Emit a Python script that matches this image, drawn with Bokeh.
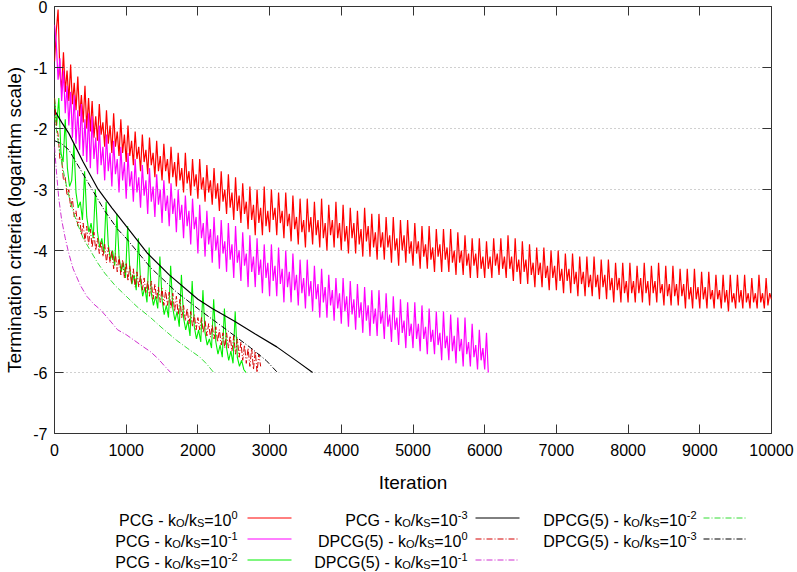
from bokeh.plotting import figure
from bokeh.models import Range1d, LinearAxis, FixedTicker, ColumnDataSource, CustomJSTickFormatter
from bokeh.layouts import column
from bokeh.core.properties import value
from bokeh.embed import file_html
from bokeh.resources import INLINE

FONT = "Liberation Sans"

# ---------------- data ----------------
x_ticks = [0, 1000, 2000, 3000, 4000, 5000, 6000, 7000, 8000, 9000, 10000]
x_tick_labels = ["0", "1000", "2000", "3000", "4000", "5000", "6000", "7000", "8000", "9000", "10000"]
y_ticks = [-7, -6, -5, -4, -3, -2, -1, 0]
y_tick_labels = ["-7", "-6", "-5", "-4", "-3", "-2", "-1", "0"]

# PCG - kO/kS=10^0 (log10 of criterion, sampled every 25 iterations)
pcg0_step = 25
pcg0 = [
    -0.90, -0.40, -0.05, -1.10, -1.35, -0.75, -1.40, -1.05, -1.55, -0.95, -1.60, -1.25, -1.70, -1.15, -1.80, -1.45, -1.90, -1.30, -2.00, -1.50,
    -2.05, -1.55, -2.15, -1.80, -2.20, -1.60, -2.10, -1.90, -2.30, -1.70, -2.25, -1.95, -2.40, -1.75, -2.30, -2.05, -2.45, -1.85, -2.40, -2.10,
    -2.55, -1.95, -2.45, -2.20, -2.60, -2.05, -2.50, -2.30, -2.70, -2.10, -2.55, -2.35, -2.75, -2.15, -2.60, -2.40, -2.80, -2.20, -2.70, -2.45,
    -2.85, -2.25, -2.70, -2.50, -2.90, -2.30, -2.80, -2.55, -2.95, -2.40, -2.85, -2.65, -3.05, -2.40, -2.90, -2.70, -3.10, -2.50, -2.95, -2.75,
    -3.15, -2.50, -3.00, -2.80, -3.20, -2.60, -3.05, -2.85, -3.25, -2.65, -3.15, -2.90, -3.35, -2.70, -3.20, -3.00, -3.40, -2.75, -3.30, -3.05,
    -3.50, -2.80, -3.35, -3.10, -3.55, -2.90, -3.40, -3.20, -3.65, -2.95, -3.50, -3.25, -3.75, -3.00, -3.55, -3.30, -3.75, -2.95, -3.60, -3.35,
    -3.70, -3.00, -3.50, -3.30, -3.75, -3.05, -3.55, -3.35, -3.80, -3.05, -3.60, -3.40, -3.85, -3.10, -3.65, -3.45, -3.90, -3.15, -3.70, -3.50,
    -3.95, -3.15, -3.70, -3.45, -3.90, -3.20, -3.75, -3.50, -3.95, -3.15, -3.80, -3.55, -4.00, -3.25, -3.75, -3.50, -3.95, -3.20, -3.80, -3.55,
    -4.00, -3.25, -3.85, -3.60, -4.05, -3.30, -3.80, -3.55, -4.05, -3.35, -3.90, -3.65, -4.10, -3.30, -3.85, -3.60, -4.10, -3.40, -3.95, -3.70,
    -4.15, -3.40, -3.95, -3.70, -4.15, -3.45, -3.95, -3.75, -4.20, -3.45, -4.00, -3.80, -4.25, -3.50, -4.00, -3.75, -4.20, -3.50, -4.05, -3.85,
    -4.25, -3.55, -4.05, -3.85, -4.30, -3.60, -4.10, -3.90, -4.30, -3.60, -4.15, -3.95, -4.35, -3.65, -4.10, -3.90, -4.35, -3.65, -4.15, -3.95,
    -4.35, -3.65, -4.20, -4.00, -4.40, -3.70, -4.20, -4.00, -4.40, -3.75, -4.25, -4.05, -4.45, -3.80, -4.25, -4.05, -4.45, -3.80, -4.30, -4.10,
    -4.45, -3.85, -4.30, -4.10, -4.45, -3.80, -4.25, -4.05, -4.40, -3.80, -4.30, -4.10, -4.45, -3.75, -4.30, -4.10, -4.50, -3.80, -4.35, -4.15,
    -4.55, -3.85, -4.35, -4.15, -4.55, -3.90, -4.40, -4.20, -4.60, -3.95, -4.40, -4.20, -4.60, -3.95, -4.45, -4.25, -4.65, -4.00, -4.45, -4.25,
    -4.65, -4.00, -4.50, -4.30, -4.70, -4.05, -4.50, -4.30, -4.70, -4.05, -4.55, -4.35, -4.75, -4.10, -4.55, -4.35, -4.75, -4.10, -4.60, -4.40,
    -4.75, -4.10, -4.60, -4.40, -4.80, -4.15, -4.60, -4.40, -4.80, -4.15, -4.65, -4.45, -4.85, -4.20, -4.65, -4.45, -4.85, -4.20, -4.70, -4.50,
    -4.85, -4.20, -4.70, -4.50, -4.85, -4.25, -4.70, -4.45, -4.85, -4.20, -4.70, -4.50, -4.90, -4.25, -4.70, -4.50, -4.85, -4.20, -4.70, -4.55,
    -4.90, -4.25, -4.75, -4.55, -4.90, -4.25, -4.75, -4.55, -4.90, -4.30, -4.75, -4.55, -4.95, -4.30, -4.80, -4.60, -4.95, -4.30, -4.80, -4.60,
    -4.95, -4.35, -4.80, -4.60, -4.95, -4.35, -4.80, -4.65, -4.95, -4.40, -4.80, -4.65, -4.95, -4.40, -4.85, -4.65, -5.00, -4.40, -4.85, -4.70,
    -4.95, -4.40, -4.85, -4.65, -4.95, -4.40, -4.85, -4.70, -4.95, -4.45, -4.85, -4.70, -4.95, -4.40, -4.85, -4.70, -4.95, -4.45, -4.90, -4.70,
    -4.80,
]

# PCG - kO/kS=10^-1 (every 25 iterations)
pcg1_step = 25
pcg1 = [
    -0.30, -0.60, -1.20, -0.85, -1.55, -1.05, -1.75, -1.30, -1.95, -1.40, -2.15, -1.45, -2.25, -1.70, -2.35, -1.60, -2.45, -1.85, -2.55, -1.75,
    -2.65, -1.80, -2.50, -2.15, -2.75, -1.95, -2.60, -2.30, -2.85, -2.10, -2.70, -2.40, -2.95, -2.20, -2.75, -2.50, -3.05, -2.30, -2.85, -2.55,
    -3.15, -2.40, -2.95, -2.70, -3.20, -2.50, -3.05, -2.80, -3.30, -2.60, -3.10, -2.85, -3.40, -2.65, -3.20, -2.95, -3.45, -2.75, -3.25, -3.00,
    -3.55, -2.85, -3.35, -3.10, -3.60, -2.90, -3.40, -3.15, -3.70, -3.00, -3.50, -3.25, -3.80, -3.10, -3.60, -3.35, -3.90, -3.15, -3.65, -3.45,
    -4.05, -3.25, -3.80, -3.55, -4.10, -3.35, -3.90, -3.65, -4.20, -3.45, -4.00, -3.75, -4.30, -3.50, -4.05, -3.85, -4.35, -3.55, -4.15, -3.90,
    -4.45, -3.60, -4.20, -4.00, -4.50, -3.70, -4.25, -4.05, -4.60, -3.75, -4.35, -4.10, -4.60, -3.80, -4.40, -4.15, -4.70, -3.90, -4.45, -4.20,
    -4.75, -3.90, -4.50, -4.25, -4.75, -3.95, -4.55, -4.30, -4.85, -4.00, -4.60, -4.35, -4.85, -4.05, -4.65, -4.40, -4.90, -4.15, -4.70, -4.45,
    -4.95, -4.15, -4.75, -4.50, -5.00, -4.25, -4.80, -4.55, -5.10, -4.30, -4.85, -4.60, -5.10, -4.40, -4.90, -4.65, -5.15, -4.45, -4.95, -4.70,
    -5.20, -4.45, -5.00, -4.75, -5.25, -4.50, -5.05, -4.80, -5.30, -4.55, -5.10, -4.85, -5.35, -4.60, -5.15, -4.90, -5.40, -4.65, -5.20, -4.95,
    -5.40, -4.65, -5.20, -5.00, -5.45, -4.70, -5.25, -5.05, -5.50, -4.75, -5.30, -5.10, -5.55, -4.80, -5.35, -5.15, -5.60, -4.85, -5.40, -5.20,
    -5.60, -4.85, -5.45, -5.20, -5.65, -4.90, -5.45, -5.25, -5.70, -4.95, -5.50, -5.30, -5.70, -5.00, -5.55, -5.35, -5.80, -5.00, -5.60, -5.40,
    -5.80, -5.05, -5.65, -5.40, -5.85, -5.10, -5.65, -5.45, -5.90, -5.10, -5.70, -5.50, -5.90, -5.20, -5.75, -5.55, -5.95, -5.30, -5.80, -5.60,
    -5.95, -5.35, -6.00,
]

# PCG - kO/kS=10^-2 (every 30 iterations)
pcg2_step = 30
pcg2 = [
    -1.50, -1.95, -1.50, -2.40, -2.55,
    -1.85, -2.65, -2.95, -2.85, -2.25,
    -3.05, -3.30, -3.20, -3.50, -2.70,
    -3.45, -3.70, -3.55, -3.80, -3.00,
    -3.70, -3.95, -3.80, -4.05, -3.20,
    -3.90, -4.15, -4.00, -4.25, -3.40,
    -4.10, -4.35, -4.20, -4.45, -3.60,
    -4.30, -4.55, -4.40, -4.65, -3.80,
    -4.50, -4.75, -4.60, -4.85, -3.95,
    -4.70, -4.90, -4.75, -4.95, -4.10,
    -4.80, -5.05, -4.90, -5.10, -4.25,
    -4.95, -5.15, -5.00, -5.25, -4.40,
    -5.10, -5.30, -5.15, -5.40, -4.50,
    -5.25, -5.45, -5.30, -5.50, -4.65,
    -5.35, -5.55, -5.45, -5.60, -4.80,
    -5.50, -5.70, -5.55, -5.75, -4.95,
    -5.60, -5.80, -5.65, -5.85, -5.00,
    -5.75, -5.90, -5.80, -5.95, -6.00,
]

# PCG - kO/kS=10^-3
pcg3_iter = [0, 100, 200, 400, 600, 800, 1000, 1300, 1600, 2000, 2200, 2500, 2800, 3100, 3400, 3600]
pcg3 = [-1.70, -1.90, -2.08, -2.55, -2.98, -3.30, -3.60, -4.05, -4.40, -4.80, -4.95, -5.15, -5.37, -5.58, -5.83, -6.00]

# DPCG(5) - kO/kS=10^0 (every 25 iterations)
dpcg0_step = 25
dpcg0 = [
    -1.50, -1.95, -2.10, -2.50, -2.50, -2.85, -2.80, -3.10, -3.00, -3.30, -3.15, -3.45, -3.35, -3.60, -3.45, -3.75, -3.55, -3.85, -3.60, -3.90,
    -3.65, -3.95, -3.70, -4.00, -3.80, -4.05, -3.85, -4.10, -3.90, -4.20, -3.95, -4.20, -4.00, -4.30, -4.05, -4.35, -4.10, -4.40, -4.15, -4.45,
    -4.20, -4.50, -4.25, -4.55, -4.30, -4.60, -4.35, -4.60, -4.40, -4.65, -4.45, -4.70, -4.50, -4.75, -4.50, -4.80, -4.55, -4.80, -4.60, -4.85,
    -4.62, -4.90, -4.65, -4.90, -4.68, -4.95, -4.70, -5.00, -4.75, -5.05, -4.80, -5.10, -4.90, -5.15, -4.95, -5.20, -5.00, -5.25, -5.05, -5.30,
    -5.10, -5.30, -5.10, -5.35, -5.15, -5.40, -5.20, -5.42, -5.22, -5.45, -5.25, -5.50, -5.30, -5.55, -5.35, -5.60, -5.35, -5.60, -5.40, -5.65,
    -5.40, -5.70, -5.45, -5.75, -5.50, -5.80, -5.55, -5.85, -5.60, -5.90, -5.60, -5.95, -5.65, -6.00, -5.70, -5.90,
]

# DPCG(5) - kO/kS=10^-1
dpcg1_iter = [0, 30, 60, 100, 150, 200, 260, 360, 450, 550, 640, 760, 880, 1000, 1120, 1240, 1340, 1450, 1540, 1620]
dpcg1 = [-2.30, -2.75, -3.15, -3.50, -3.80, -4.05, -4.30, -4.57, -4.75, -4.88, -4.97, -5.13, -5.30, -5.38, -5.48, -5.58, -5.66, -5.78, -5.90, -6.00]

# DPCG(5) - kO/kS=10^-2
dpcg2_iter = [0, 50, 100, 150, 220, 300, 400, 500, 600, 700, 850, 1000, 1150, 1340, 1500, 1700, 1850, 2030, 2130, 2220]
dpcg2 = [-1.80, -2.20, -2.55, -2.85, -3.20, -3.50, -3.80, -4.00, -4.20, -4.37, -4.58, -4.75, -4.92, -5.10, -5.27, -5.47, -5.60, -5.75, -5.87, -6.00]

# DPCG(5) - kO/kS=10^-3
dpcg3_iter = [0, 100, 200, 300, 500, 700, 880, 1000, 1340, 1700, 2030, 2400, 2730, 2950, 3110]
dpcg3 = [-2.20, -2.25, -2.35, -2.55, -2.95, -3.35, -3.65, -3.80, -4.28, -4.68, -4.98, -5.30, -5.59, -5.80, -6.00]

legend_methods = ["PCG", "PCG", "PCG", "PCG", "DPCG(5)", "DPCG(5)", "DPCG(5)", "DPCG(5)"]
legend_exps = ["0", "-1", "-2", "-3", "0", "-1", "-2", "-3"]

# ---------------- styles ----------------
series = [
    # (x, y, color, dash, width)
    ([i * pcg0_step for i in range(len(pcg0))], pcg0, "#ff0000", "solid", 1.2),
    ([i * pcg1_step for i in range(len(pcg1))], pcg1, "#ff00ff", "solid", 1.2),
    ([i * pcg2_step for i in range(len(pcg2))], pcg2, "#00ee00", "solid", 1.1),
    (pcg3_iter, pcg3, "#000000", "solid", 1.2),
    ([i * dpcg0_step for i in range(len(dpcg0))], dpcg0, "#d40000", "6 2 1 2", 1.0),
    (dpcg1_iter, dpcg1, "#d030d0", "6 2 1 2", 1.0),
    (dpcg2_iter, dpcg2, "#33dd33", "6 2 1 2", 1.0),
    (dpcg3_iter, dpcg3, "#000000", "6 2 1 2", 1.0),
]

W = 797
H_MAIN = 497
H_LEG = 75
BL, BR = 54, 26          # left / right borders: the plot frame spans x = 54 .. 771
FS = "16px"
TITLE_FS = "19px"
AXC = "#333333"

p = figure(width=W, height=H_MAIN, x_range=Range1d(0, 10000), y_range=Range1d(-7, 0),
           output_backend="svg", toolbar_location=None,
           min_border_left=BL, min_border_right=BR, min_border_top=6, min_border_bottom=64)
p.background_fill_color = "white"
p.border_fill_color = "white"
p.outline_line_color = AXC
p.outline_line_width = 1
p.xgrid.visible = False
p.ygrid.grid_line_color = "#a0a0a0"
p.ygrid.grid_line_dash = "1 3"
p.ygrid.grid_line_width = 1

xa = p.xaxis[0]
xa.ticker = FixedTicker(ticks=x_ticks)
xa.major_label_overrides = {t: s for t, s in zip(x_ticks, x_tick_labels)}
ya = p.yaxis[0]
ya.ticker = FixedTicker(ticks=y_ticks)
ya.major_label_overrides = {t: s for t, s in zip(y_ticks, y_tick_labels)}
for ax in (xa, ya):
    ax.axis_line_color = None
    ax.major_tick_in = 9
    ax.major_tick_out = 0
    ax.major_tick_line_color = AXC
    ax.minor_tick_line_color = None
    ax.major_label_text_font = FONT
    ax.major_label_text_font_size = FS
    ax.major_label_text_color = "black"
    ax.axis_label_text_font = FONT
    ax.axis_label_text_font_size = TITLE_FS
    ax.axis_label_text_font_style = "normal"
    ax.axis_label_text_color = "black"
xa.axis_label = "Iteration"
xa.major_label_standoff = 10
xa.axis_label_standoff = 13
ya.axis_label = "Termination criteria (logarithm scale)"
ya.major_label_standoff = 7
ya.axis_label_standoff = 5

top = LinearAxis(ticker=FixedTicker(ticks=x_ticks), formatter=CustomJSTickFormatter(code="return ''"),
                 major_label_text_font_size="0px", major_label_standoff=0, major_tick_in=9,
                 major_tick_out=0, minor_tick_line_color=None, axis_line_color=None,
                 major_tick_line_color=AXC)
right = LinearAxis(ticker=FixedTicker(ticks=y_ticks), formatter=CustomJSTickFormatter(code="return ''"),
                   major_label_text_font_size="0px", major_label_standoff=0, major_tick_in=9,
                   major_tick_out=0, minor_tick_line_color=None, axis_line_color=None,
                   major_tick_line_color=AXC)
p.add_layout(top, "above")
p.add_layout(right, "right")

for xs, ys, col, dash, lw in series:
    p.line(xs, ys, line_color=col, line_width=lw, line_dash=dash)

# ---------------- legend (gnuplot style: text right-aligned, sample on the right) ----------------
# legend panel uses page-pixel coordinates over the same frame as the plot (x = 54 .. 771)
leg = figure(width=W, height=H_LEG, x_range=Range1d(BL, W - BR), y_range=Range1d(H_LEG, 0),
             output_backend="svg", toolbar_location=None,
             min_border_left=BL, min_border_right=BR, min_border_top=0, min_border_bottom=0,
             x_axis_type=None, y_axis_type=None)
leg.outline_line_color = None
leg.grid.visible = False
leg.background_fill_color = "white"
leg.border_fill_color = "white"

ADV = {' ': 278, '-': 333, '/': 278, '=': 584, '(': 333, ')': 333, 'P': 667, 'C': 722, 'G': 778,
       'D': 722, 'k': 500, 'O': 778, 'S': 667}
for d in "0123456789":
    ADV[d] = 556


def tw(s, size):
    return sum(ADV.get(c, 556) for c in s) * size / 1000.0


col_right = [237, 467, 696]
col_line = [247, 475, 703]
LINE_LEN = 44
row_y = [23, 44, 65]
BASE = 0.2          # main-text baseline relative to row centre (empirically tuned)

tx, ty, tt, tf = [], [], [], []
for k, (meth, ex) in enumerate(zip(legend_methods, legend_exps)):
    c, r = k // 3, k % 3
    cy = row_y[r]
    pieces = [(meth + " - k", 16, 0.0), ("O", 11, 2.6), ("/k", 16, 0.0),
              ("S", 11, 2.6), ("=10", 16, 0.0), (ex, 11, -6.0)]
    total = sum(tw(s, sz) for s, sz, _ in pieces)
    x = col_right[c] - total
    for s, sz, dy in pieces:
        tx.append(x)
        ty.append(cy + BASE + dy)
        tt.append(s)
        tf.append("%dpx" % sz)
        x += tw(s, sz)
    _, _, colr, dash, lw = series[k]
    leg.line([col_line[c], col_line[c] + LINE_LEN], [cy - 2.5, cy - 2.5], line_color=colr,
             line_width=1.0, line_dash=dash)

leg.text(x="x", y="y", text="t", text_font_size="fs",
         source=ColumnDataSource(dict(x=tx, y=ty, t=tt, fs=tf)),
         text_font=value(FONT), text_align="left", text_baseline="alphabetic", text_color="black")

layout = column(p, leg)
open("out.html", "w").write(file_html(layout, INLINE))
